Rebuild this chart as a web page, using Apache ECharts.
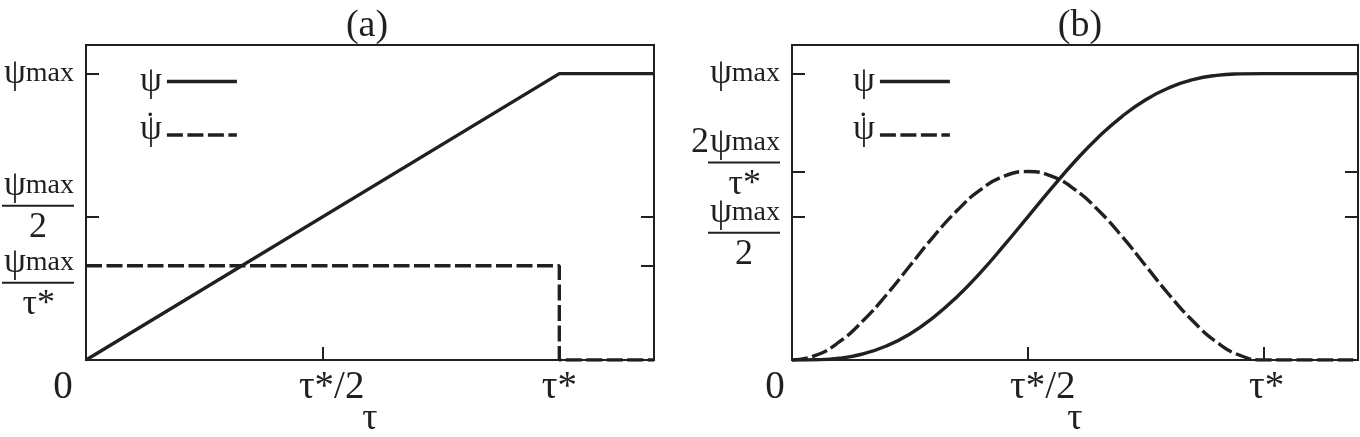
<!DOCTYPE html>
<html><head><meta charset="utf-8">
<script src="https://cdn.jsdelivr.net/npm/echarts@6/dist/echarts.min.js"></script>
<style>html,body{margin:0;padding:0;background:#fff}#c{width:1360px;height:437px}</style>
</head><body><div id="c"></div>
<script>
// ---------- data ----------
const panelTitles = ['(a)', '(b)'];
const seriesNames = ['ψ', 'ψ\u0307'];
const axisName = 'τ';
// Panel (a): linear ramp
const tauA = [0, 1, 1.2];
const psiA = [0, 1, 1];
const tauDotA = [0, 1, 1, 1.2];
const psiDotA = [0.329, 0.329, 0, 0];
// Panel (b): smooth ramp
const tauB = [0, 0.05, 0.1, 0.15, 0.2, 0.25, 0.3, 0.35, 0.4, 0.45, 0.5, 0.55, 0.6, 0.65, 0.7, 0.75, 0.8, 0.85, 0.9, 0.95, 1, 1.2];
const psiB = [0, 0.001, 0.006, 0.021, 0.049, 0.091, 0.149, 0.221, 0.306, 0.401, 0.5, 0.599, 0.694, 0.779, 0.851, 0.909, 0.951, 0.979, 0.994, 0.999, 1, 1];
const psiDotB = [0, 0.016, 0.063, 0.136, 0.227, 0.329, 0.431, 0.522, 0.595, 0.642, 0.658, 0.642, 0.595, 0.522, 0.431, 0.329, 0.227, 0.136, 0.063, 0.016, 0, 0];
// ticks
const xTickValues = [0, 0.5, 1];
const xTickLabels = ['0', 'τ*/2', 'τ*'];
const yTickValuesA = [0.329, 0.5, 1];
const yTickLabelsA = ['ψmax/τ*', 'ψmax/2', 'ψmax'];
const yTickValuesB = [0.5, 0.658, 1];
const yTickLabelsB = ['ψmax/2', '2ψmax/τ*', 'ψmax'];

// ---------- styling ----------
const INK = '#231f20';
const FONT = 'Liberation Serif';
const zip = (xs, ys) => xs.map((x, i) => [x, ys[i]]);

const txt = (size, extra) => Object.assign({fontSize: size, fontFamily: FONT, color: INK, align: 'right'}, extra);
const rich = {
  p: txt(35, {lineHeight: 28}),
  m: txt(28, {lineHeight: 28}),
  two: txt(36, {lineHeight: 28, padding: [0, 1, 0, 0]}),
  bar: {width: 72, height: 2, backgroundColor: INK, fontSize: 1, lineHeight: 12, align: 'right'},
  d2: txt(36, {lineHeight: 32, padding: [0, 27, 0, 0]}),
  dt: txt(36, {lineHeight: 32, padding: [0, 19, 0, 0]}),
  s14: {fontSize: 1, lineHeight: 14, align: 'right'},
  s18: {fontSize: 1, lineHeight: 18, align: 'right'},
  s36: {fontSize: 1, lineHeight: 36, align: 'right'},
  s38: {fontSize: 1, lineHeight: 38, align: 'right'}
};
// vertical shift of each fraction label relative to its tick (spacer lines)
const spacers = {
  'a:ψmax/τ*': ['s38', null], 'a:ψmax/2': [null, 's18'],
  'b:ψmax/2': ['s36', null], 'b:2ψmax/τ*': [null, 's14']
};
function yLabelRich(lbl, panel) {
  const parts = lbl.split('/');
  let num = parts[0];
  let pre = '';
  if (num[0] === '2') { pre = '{two|2}'; num = num.slice(1); }
  const numStr = pre + '{p|' + num[0] + '}{m|' + num.slice(1) + '}';
  if (parts.length === 1) return numStr;
  const den = parts[1] === '2' ? '{d2|2}' : '{dt|' + parts[1] + '}';
  let s = numStr + '\n{bar|\u00a0}\n' + den;
  const sp = spacers[panel + ':' + lbl] || [null, null];
  if (sp[0]) s = '{' + sp[0] + '|\u00a0}\n' + s;
  if (sp[1]) s = s + '\n{' + sp[1] + '|\u00a0}';
  return s;
}
const xt = (pad) => ({fontSize: 39, fontFamily: FONT, color: INK, padding: pad});
const xRichA = {x0: xt([0, 46, 0, 0]), xh: xt([0, 0, 0, 18]), x1: xt([0, 0, 0, 0])};
const xRichB = {x0: xt([0, 34, 0, 0]), xh: xt([0, 0, 0, 30]), x1: xt([0, 0, 0, 6])};
const xKeys = ['x0', 'xh', 'x1'];
function xFormatter(v) {
  const i = xTickValues.indexOf(v);
  return i < 0 ? '' : '{' + xKeys[i] + '|' + xTickLabels[i] + '}';
}

const grids = [
  {left: 86, right: 706, top: 45, bottom: 77, show: true, borderColor: INK, borderWidth: 2, containLabel: false, outerBoundsMode: 'none'},
  {left: 792, right: 2, top: 45, bottom: 77, show: true, borderColor: INK, borderWidth: 2, containLabel: false, outerBoundsMode: 'none'}
];
const tickStyle = {inside: true, length: 13, lineStyle: {color: INK, width: 2}};

function xAxisFor(i, richSet) {
  return {
    type: 'value', gridIndex: i, min: 0, max: 1.2,
    axisLine: {show: false}, splitLine: {show: false},
    axisTick: Object.assign({customValues: xTickValues.slice(1)}, tickStyle),
    axisLabel: {customValues: xTickValues, formatter: xFormatter, rich: richSet, margin: 8,
                showMinLabel: true, showMaxLabel: true},
    name: axisName, nameLocation: 'middle', nameGap: 40, nameMoveOverlap: false,
    nameTextStyle: {fontSize: 38, fontFamily: FONT, color: INK}
  };
}
// one base axis (ticks) + one axis per label (avoids label-overlap hiding) + mirrored right ticks
function yAxesFor(i, vals, labels, panel) {
  const common = {type: 'value', gridIndex: i, min: 0, max: 1.1, axisLine: {show: false}, splitLine: {show: false}};
  const axes = [Object.assign({}, common, {
    position: 'left',
    axisTick: Object.assign({customValues: vals}, tickStyle),
    axisLabel: {show: false}
  })];
  vals.forEach((v, k) => {
    axes.push(Object.assign({}, common, {
      position: 'left',
      axisTick: {show: false},
      axisLabel: {customValues: [v], margin: 12, rich: rich, showMinLabel: true, showMaxLabel: true,
                  formatter: () => yLabelRich(labels[k], panel)}
    }));
  });
  axes.push(Object.assign({}, common, {
    position: 'right',
    axisTick: Object.assign({customValues: vals}, tickStyle),
    axisLabel: {show: false}
  }));
  return axes;
}
const yAxesA = yAxesFor(0, yTickValuesA, yTickLabelsA, 'a');
const yAxesB = yAxesFor(1, yTickValuesB, yTickLabelsB, 'b');
const baseB = yAxesA.length;

const LW = 3.4;
const DASH = [16, 4.5];
const lineSolid = {width: LW, color: INK, type: 'solid'};
const lineDash = {width: LW, color: INK, type: DASH};
function mkSeries(name, data, xi, yi, style, smooth) {
  return {
    type: 'line', name: name, xAxisIndex: xi, yAxisIndex: yi, data: data,
    symbol: 'none', smooth: smooth ? 0.5 : false,
    lineStyle: style, itemStyle: {color: INK}, animation: false, silent: true
  };
}

const legendRich = {
  p: {fontSize: 35, fontFamily: FONT, color: INK, lineHeight: 30, align: 'right'},
  dot: {fontSize: 30, fontFamily: FONT, color: INK, lineHeight: 14, align: 'right', padding: [0, 8, 0, 0]},
  s8: {fontSize: 1, lineHeight: 8, align: 'right'},
  s24: {fontSize: 1, lineHeight: 24, align: 'right'}
};
const legendCommon = {
  orient: 'vertical', align: 'right', itemWidth: 70, itemHeight: 14, itemGap: -8,
  selectedMode: false, data: seriesNames,
  itemStyle: {opacity: 0, borderWidth: 0},
  lineStyle: {width: LW},
  formatter: name => name === seriesNames[0]
    ? '{s8|\u00a0}\n{p|ψ}\n{s8|\u00a0}'
    : '{dot|.}\n{p|ψ}\n{s24|\u00a0}',
  textStyle: {fontSize: 35, fontFamily: FONT, color: INK, rich: legendRich}
};

const titleStyle = {fontSize: 38, fontFamily: FONT, fontWeight: 'normal', color: INK};
const option = {
  animation: false,
  backgroundColor: '#fff',
  title: [
    {text: panelTitles[0], left: 362, top: 2, textAlign: 'center', textStyle: titleStyle},
    {text: panelTitles[1], left: 1075, top: 2, textAlign: 'center', textStyle: titleStyle}
  ],
  legend: [
    Object.assign({left: 135, top: 57}, legendCommon),
    Object.assign({left: 848, top: 57}, legendCommon)
  ],
  grid: grids,
  xAxis: [xAxisFor(0, xRichA), xAxisFor(1, xRichB)],
  yAxis: yAxesA.concat(yAxesB),
  series: [
    mkSeries(seriesNames[0], zip(tauA, psiA), 0, 0, lineSolid, false),
    mkSeries(seriesNames[1], zip(tauDotA, psiDotA), 0, 0, lineDash, false),
    mkSeries(seriesNames[0], zip(tauB, psiB), 1, baseB, lineSolid, true),
    mkSeries(seriesNames[1], zip(tauB, psiDotB), 1, baseB, lineDash, true)
  ]
};
const chart = echarts.init(document.getElementById('c'), null, {renderer: 'canvas'});
chart.setOption(option);
</script>
</body></html>
